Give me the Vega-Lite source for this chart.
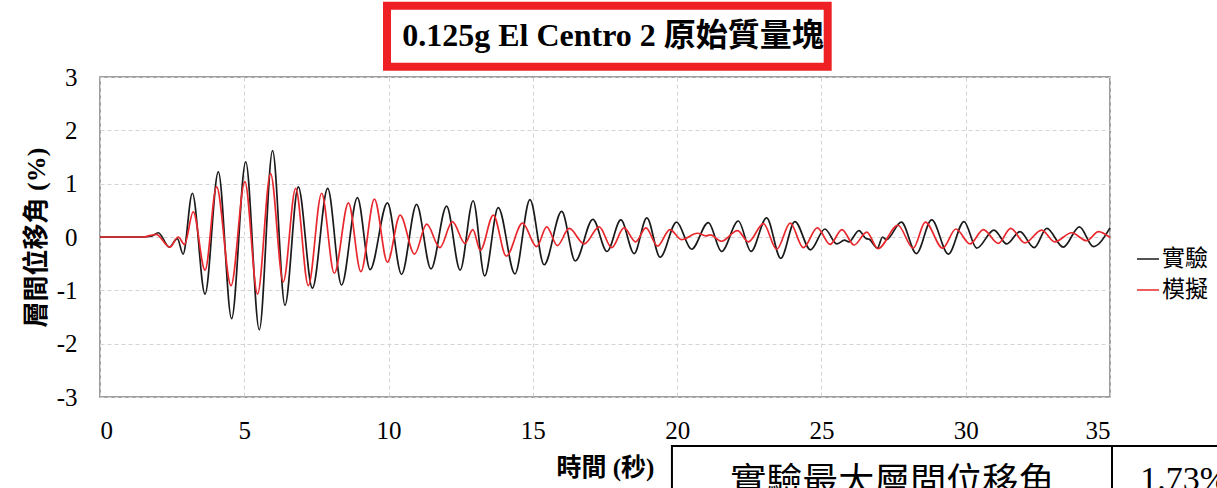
{
  "$schema": "https://vega.github.io/schema/vega-lite/v6.json",
  "width": 1010,
  "height": 320,
  "autosize": {"type": "none"},
  "padding": {"left": 100, "top": 77, "right": 107, "bottom": 91},
  "background": "white",
  "title": {
    "text": "0.125g El Centro 2 原始質量塊",
    "font": "Liberation Serif, Noto Sans CJK TC",
    "fontSize": 32,
    "fontWeight": "bold",
    "color": "black",
    "anchor": "middle",
    "frame": "group",
    "baseline": "alphabetic",
    "offset": -76,
    "dx": 8
  },
  "config": {
    "view": {"stroke": "#7f7f7f", "strokeWidth": 1.5},
    "axis": {
      "labelFont": "Liberation Serif",
      "labelFontSize": 25,
      "labelColor": "black",
      "ticks": false,
      "tickSize": 0,
      "domain": false,
      "gridColor": "#d4d4d4",
      "gridDash": [4, 3],
      "gridWidth": 1,
      "titleFont": "Liberation Serif, Noto Sans CJK TC",
      "titleFontWeight": "bold",
      "titleColor": "black"
    }
  },
  "datasets": {
    "curves": [
      {"t": 0, "v": 0, "s": "實驗"}, {"t": 1.5, "v": 0, "s": "實驗"}, {"t": 1.8, "v": 0.02, "s": "實驗"},
      {"t": 2.02, "v": 0.08, "s": "實驗"}, {"t": 2.4, "v": -0.19, "s": "實驗"}, {"t": 2.68, "v": -0.03, "s": "實驗"},
      {"t": 2.88, "v": -0.32, "s": "實驗"}, {"t": 3.2, "v": 0.82, "s": "實驗"}, {"t": 3.64, "v": -1.07, "s": "實驗"},
      {"t": 4.1, "v": 1.22, "s": "實驗"}, {"t": 4.56, "v": -1.53, "s": "實驗"}, {"t": 5.05, "v": 1.41, "s": "實驗"},
      {"t": 5.52, "v": -1.74, "s": "實驗"}, {"t": 5.98, "v": 1.62, "s": "實驗"}, {"t": 6.41, "v": -1.28, "s": "實驗"},
      {"t": 6.87, "v": 0.94, "s": "實驗"}, {"t": 7.36, "v": -0.96, "s": "實驗"}, {"t": 7.89, "v": 0.91, "s": "實驗"},
      {"t": 8.37, "v": -0.9, "s": "實驗"}, {"t": 8.92, "v": 0.74, "s": "實驗"}, {"t": 9.36, "v": -0.61, "s": "實驗"},
      {"t": 9.96, "v": 0.64, "s": "實驗"}, {"t": 10.45, "v": -0.7, "s": "實驗"}, {"t": 10.97, "v": 0.61, "s": "實驗"},
      {"t": 11.47, "v": -0.6, "s": "實驗"}, {"t": 12.01, "v": 0.58, "s": "實驗"}, {"t": 12.48, "v": -0.62, "s": "實驗"},
      {"t": 12.93, "v": 0.68, "s": "實驗"}, {"t": 13.33, "v": -0.73, "s": "實驗"}, {"t": 13.8, "v": 0.55, "s": "實驗"},
      {"t": 14.38, "v": -0.69, "s": "實驗"}, {"t": 14.9, "v": 0.7, "s": "實驗"}, {"t": 15.39, "v": -0.52, "s": "實驗"},
      {"t": 16.0, "v": 0.48, "s": "實驗"}, {"t": 16.47, "v": -0.45, "s": "實驗"}, {"t": 17.08, "v": 0.33, "s": "實驗"},
      {"t": 17.57, "v": -0.27, "s": "實驗"}, {"t": 18.05, "v": 0.32, "s": "實驗"}, {"t": 18.51, "v": -0.31, "s": "實驗"},
      {"t": 18.95, "v": 0.36, "s": "實驗"}, {"t": 19.41, "v": -0.38, "s": "實驗"}, {"t": 19.98, "v": 0.28, "s": "實驗"},
      {"t": 20.5, "v": -0.23, "s": "實驗"}, {"t": 21.08, "v": 0.27, "s": "實驗"}, {"t": 21.54, "v": -0.27, "s": "實驗"},
      {"t": 22.12, "v": 0.3, "s": "實驗"}, {"t": 22.56, "v": -0.27, "s": "實驗"}, {"t": 23.1, "v": 0.36, "s": "實驗"},
      {"t": 23.59, "v": -0.4, "s": "實驗"}, {"t": 24.08, "v": 0.29, "s": "實驗"}, {"t": 24.62, "v": -0.24, "s": "實驗"},
      {"t": 25.12, "v": 0.15, "s": "實驗"}, {"t": 25.53, "v": -0.13, "s": "實驗"}, {"t": 25.8, "v": -0.06, "s": "實驗"},
      {"t": 25.95, "v": -0.09, "s": "實驗"}, {"t": 26.3, "v": 0.12, "s": "實驗"}, {"t": 26.55, "v": -0.03, "s": "實驗"},
      {"t": 26.65, "v": -0.04, "s": "實驗"}, {"t": 26.94, "v": -0.21, "s": "實驗"}, {"t": 27.12, "v": 0.0, "s": "實驗"},
      {"t": 27.25, "v": -0.05, "s": "實驗"}, {"t": 27.77, "v": 0.28, "s": "實驗"}, {"t": 28.29, "v": -0.31, "s": "實驗"},
      {"t": 28.82, "v": 0.32, "s": "實驗"}, {"t": 29.4, "v": -0.32, "s": "實驗"}, {"t": 29.94, "v": 0.29, "s": "實驗"},
      {"t": 30.38, "v": -0.21, "s": "實驗"}, {"t": 30.98, "v": 0.13, "s": "實驗"}, {"t": 31.42, "v": -0.13, "s": "實驗"},
      {"t": 31.88, "v": 0.1, "s": "實驗"}, {"t": 32.37, "v": -0.2, "s": "實驗"}, {"t": 32.81, "v": 0.16, "s": "實驗"},
      {"t": 33.38, "v": -0.19, "s": "實驗"}, {"t": 33.94, "v": 0.19, "s": "實驗"}, {"t": 34.42, "v": -0.18, "s": "實驗"},
      {"t": 35.0, "v": 0.17, "s": "實驗"},
      {"t": 0, "v": 0, "s": "模擬"}, {"t": 1.5, "v": 0, "s": "模擬"}, {"t": 1.75, "v": 0.03, "s": "模擬"},
      {"t": 1.95, "v": 0.05, "s": "模擬"}, {"t": 2.42, "v": -0.19, "s": "模擬"}, {"t": 2.71, "v": 0.0, "s": "模擬"},
      {"t": 2.93, "v": -0.14, "s": "模擬"}, {"t": 3.23, "v": 0.47, "s": "模擬"}, {"t": 3.64, "v": -0.62, "s": "模擬"},
      {"t": 4.04, "v": 0.94, "s": "模擬"}, {"t": 4.54, "v": -0.91, "s": "模擬"}, {"t": 5.02, "v": 1.04, "s": "模擬"},
      {"t": 5.46, "v": -1.07, "s": "模擬"}, {"t": 5.91, "v": 1.19, "s": "模擬"}, {"t": 6.35, "v": -0.84, "s": "模擬"},
      {"t": 6.78, "v": 0.91, "s": "模擬"}, {"t": 7.22, "v": -0.91, "s": "模擬"}, {"t": 7.68, "v": 0.82, "s": "模擬"},
      {"t": 8.12, "v": -0.68, "s": "模擬"}, {"t": 8.61, "v": 0.64, "s": "模擬"}, {"t": 9.04, "v": -0.65, "s": "模擬"},
      {"t": 9.51, "v": 0.71, "s": "模擬"}, {"t": 9.96, "v": -0.47, "s": "模擬"}, {"t": 10.4, "v": 0.41, "s": "模擬"},
      {"t": 10.9, "v": -0.32, "s": "模擬"}, {"t": 11.32, "v": 0.24, "s": "模擬"}, {"t": 11.78, "v": -0.2, "s": "模擬"},
      {"t": 12.21, "v": 0.29, "s": "模擬"}, {"t": 12.65, "v": -0.12, "s": "模擬"}, {"t": 12.92, "v": 0.14, "s": "模擬"},
      {"t": 13.18, "v": -0.25, "s": "模擬"}, {"t": 13.63, "v": 0.41, "s": "模擬"}, {"t": 14.08, "v": -0.36, "s": "模擬"},
      {"t": 14.64, "v": 0.26, "s": "模擬"}, {"t": 15.13, "v": -0.18, "s": "模擬"}, {"t": 15.48, "v": 0.19, "s": "模擬"},
      {"t": 15.85, "v": -0.16, "s": "模擬"}, {"t": 16.26, "v": 0.16, "s": "模擬"}, {"t": 16.78, "v": -0.13, "s": "模擬"},
      {"t": 17.3, "v": 0.19, "s": "模擬"}, {"t": 17.73, "v": -0.2, "s": "模擬"}, {"t": 18.16, "v": 0.17, "s": "模擬"},
      {"t": 18.56, "v": -0.09, "s": "模擬"}, {"t": 18.92, "v": 0.17, "s": "模擬"}, {"t": 19.32, "v": -0.17, "s": "模擬"},
      {"t": 19.75, "v": 0.14, "s": "模擬"}, {"t": 20.15, "v": -0.05, "s": "模擬"}, {"t": 20.7, "v": 0.07, "s": "模擬"},
      {"t": 21.0, "v": 0.02, "s": "模擬"}, {"t": 21.15, "v": 0.04, "s": "模擬"}, {"t": 21.54, "v": -0.08, "s": "模擬"},
      {"t": 22.09, "v": 0.12, "s": "模擬"}, {"t": 22.47, "v": -0.09, "s": "模擬"}, {"t": 22.99, "v": 0.25, "s": "模擬"},
      {"t": 23.45, "v": -0.23, "s": "模擬"}, {"t": 23.92, "v": 0.26, "s": "模擬"}, {"t": 24.37, "v": -0.2, "s": "模擬"},
      {"t": 24.86, "v": 0.17, "s": "模擬"}, {"t": 25.3, "v": -0.14, "s": "模擬"}, {"t": 25.71, "v": 0.14, "s": "模擬"},
      {"t": 26.13, "v": -0.15, "s": "模擬"}, {"t": 26.57, "v": 0.09, "s": "模擬"}, {"t": 26.96, "v": -0.22, "s": "模擬"},
      {"t": 27.65, "v": 0.22, "s": "模擬"}, {"t": 28.18, "v": -0.21, "s": "模擬"}, {"t": 28.6, "v": 0.28, "s": "模擬"},
      {"t": 29.2, "v": -0.21, "s": "模擬"}, {"t": 29.66, "v": 0.15, "s": "模擬"}, {"t": 30.15, "v": -0.13, "s": "模擬"},
      {"t": 30.61, "v": 0.14, "s": "模擬"}, {"t": 31.13, "v": -0.12, "s": "模擬"}, {"t": 31.56, "v": 0.16, "s": "模擬"},
      {"t": 32.05, "v": -0.11, "s": "模擬"}, {"t": 32.63, "v": 0.13, "s": "模擬"}, {"t": 33.09, "v": -0.09, "s": "模擬"},
      {"t": 33.67, "v": 0.08, "s": "模擬"}, {"t": 34.19, "v": -0.07, "s": "模擬"}, {"t": 34.6, "v": 0.1, "s": "模擬"},
      {"t": 35.0, "v": -0.01, "s": "模擬"}
    ],
    "table": [
      {"key": "a", "label": "實驗最大層間位移角"},
      {"key": "b", "label": "1.73%"}
    ]
  },
  "layer": [
    {
      "data": {"name": "curves"},
      "mark": {"type": "line", "interpolate": "monotone", "strokeWidth": 1.7},
      "encoding": {
        "x": {
          "field": "t", "type": "quantitative",
          "scale": {"domain": [0, 35], "nice": false},
          "axis": {
            "values": [0, 5, 10, 15, 20, 25, 30, 35],
            "labelFont": "Liberation Serif",
            "labelExpr": "'' + datum.value",
            "labelPadding": 21,
            "title": "時間 (秒)",
            "titleFontSize": 25,
            "titleY": 78,
            "titleBaseline": "alphabetic"
          }
        },
        "y": {
          "field": "v", "type": "quantitative",
          "scale": {"domain": [-3, 3], "nice": false},
          "axis": {
            "values": [-3, -2, -1, 0, 1, 2, 3],
            "labelFont": "Liberation Serif",
            "labelExpr": "'' + datum.value",
            "labelPadding": 23,
            "title": "層間位移角 (%)",
            "titleFontSize": 26,
            "titleX": -64,
            "titleY": 160,
            "titleAngle": -90,
            "titleAlign": "center",
            "titleBaseline": "middle"
          }
        },
        "color": {
          "field": "s", "type": "nominal",
          "scale": {"domain": ["實驗", "模擬"], "range": ["#1a1a1a", "#e8282d"]},
          "legend": {
            "orient": "none",
            "legendX": 1036,
            "legendY": 170,
            "title": null,
            "symbolType": "stroke",
            "symbolSize": 484,
            "symbolStrokeWidth": 1.5,
            "labelFont": "Noto Sans CJK TC",
            "labelFontSize": 23,
            "labelColor": "black",
            "labelOffset": 2,
            "rowPadding": 7,
            "padding": 0
          }
        }
      }
    },
    {
      "data": {"values": [{}]},
      "mark": {"type": "rect", "filled": false, "stroke": "#ee2024", "strokeWidth": 8, "clip": false},
      "encoding": {
        "x": {"datum": 9.946}, "x2": {"datum": 25.217},
        "y": {"datum": 4.337}, "y2": {"datum": 3.193}
      }
    },
    {
      "data": {"values": [{}]},
      "mark": {"type": "rect", "filled": false, "stroke": "black", "strokeWidth": 2, "clip": false},
      "encoding": {
        "x": {"datum": 19.82}, "x2": {"datum": 39.6},
        "y": {"datum": -3.919}, "y2": {"datum": -5.3}
      }
    },
    {
      "data": {"values": [{}]},
      "mark": {"type": "rule", "stroke": "black", "strokeWidth": 2, "clip": false},
      "encoding": {
        "x": {"datum": 35.07},
        "y": {"datum": -3.919}, "y2": {"datum": -5.3}
      }
    },
    {
      "data": {"name": "table"},
      "transform": [{"filter": "datum.key === 'a'"}],
      "mark": {"type": "text", "font": "Noto Sans CJK TC", "fontSize": 36, "color": "black", "align": "center", "baseline": "alphabetic", "clip": false},
      "encoding": {
        "x": {"datum": 27.45},
        "y": {"datum": -4.82},
        "text": {"field": "label"}
      }
    },
    {
      "data": {"name": "table"},
      "transform": [{"filter": "datum.key === 'b'"}],
      "mark": {"type": "text", "font": "Liberation Serif", "fontSize": 34, "color": "black", "align": "left", "baseline": "alphabetic", "clip": false},
      "encoding": {
        "x": {"datum": 36.05},
        "y": {"datum": -4.74},
        "text": {"field": "label"}
      }
    }
  ]
}
